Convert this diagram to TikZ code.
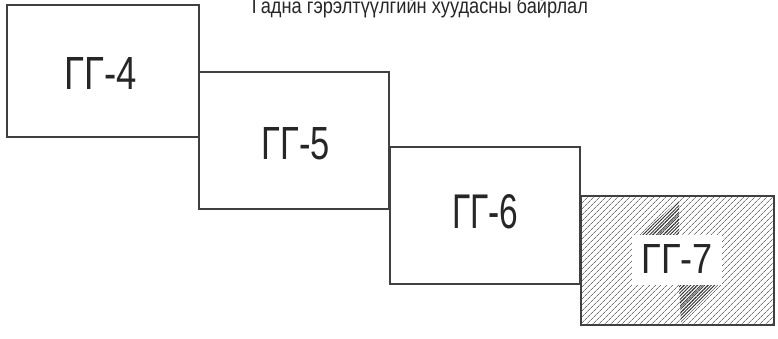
\documentclass[tikz,border=0pt]{standalone}
\usepackage{fontspec}
\setmainfont{Liberation Sans}
\usetikzlibrary{patterns.meta}
\tikzset{
  sheet/.style={draw=black!75, line width=1.4pt, inner sep=0pt, outer sep=0pt},
  lbl/.style={inner sep=0pt, outer sep=0pt, text=black!85},
}
\newcommand{\lab}[3]{\resizebox{#1pt}{#2pt}{#3}}
\begin{document}
\begin{tikzpicture}[x=1pt,y=-1pt]
\useasboundingbox (0,0) rectangle (778,338);
\clip (0,0) rectangle (778,338);
% sheet 7 (hatched)
\path[pattern={Lines[angle=45,distance=4pt,line width=0.7pt]}, pattern color=black!55]
  (581,196) rectangle (774,325);
\path[pattern={Lines[angle=45,distance=2.4pt,line width=0.9pt]}, pattern color=black!80]
  (641,235) -- (679,200) -- (679,235) -- cycle;
\path[pattern={Lines[angle=45,distance=2.4pt,line width=0.9pt]}, pattern color=black!80]
  (679,285) -- (718,285) -- (681,322) -- cycle;
\fill[white] (632,235) rectangle (722,285);
\node[sheet, minimum width=193pt, minimum height=129pt] (g7) at (677.5,260.5) {};
% sheets 4-6
\node[sheet, minimum width=190pt, minimum height=137pt, fill=white] (g6) at (485,215.5) {};
\node[sheet, minimum width=190pt, minimum height=137pt, fill=white] (g5) at (294,140.5) {};
\node[sheet, minimum width=192pt, minimum height=132pt, fill=white] (g4) at (103,71) {};
% labels
\node[lbl] (t4) at (101,73) {\lab{72}{32}{ГГ-4}};
\node[lbl] (t5) at (296,144) {\lab{68}{32}{ГГ-5}};
\node[lbl] (t6) at (485,212) {\lab{66}{34}{ГГ-6}};
\node[lbl] (t7) at (677,259) {\lab{71}{29}{ГГ-7}};
% title
\node[lbl, anchor=base] (title) at (420,13) {\lab{336}{16}{Гадна гэрэлтүүлгийн хуудасны байрлал}};
\end{tikzpicture}
\end{document}
